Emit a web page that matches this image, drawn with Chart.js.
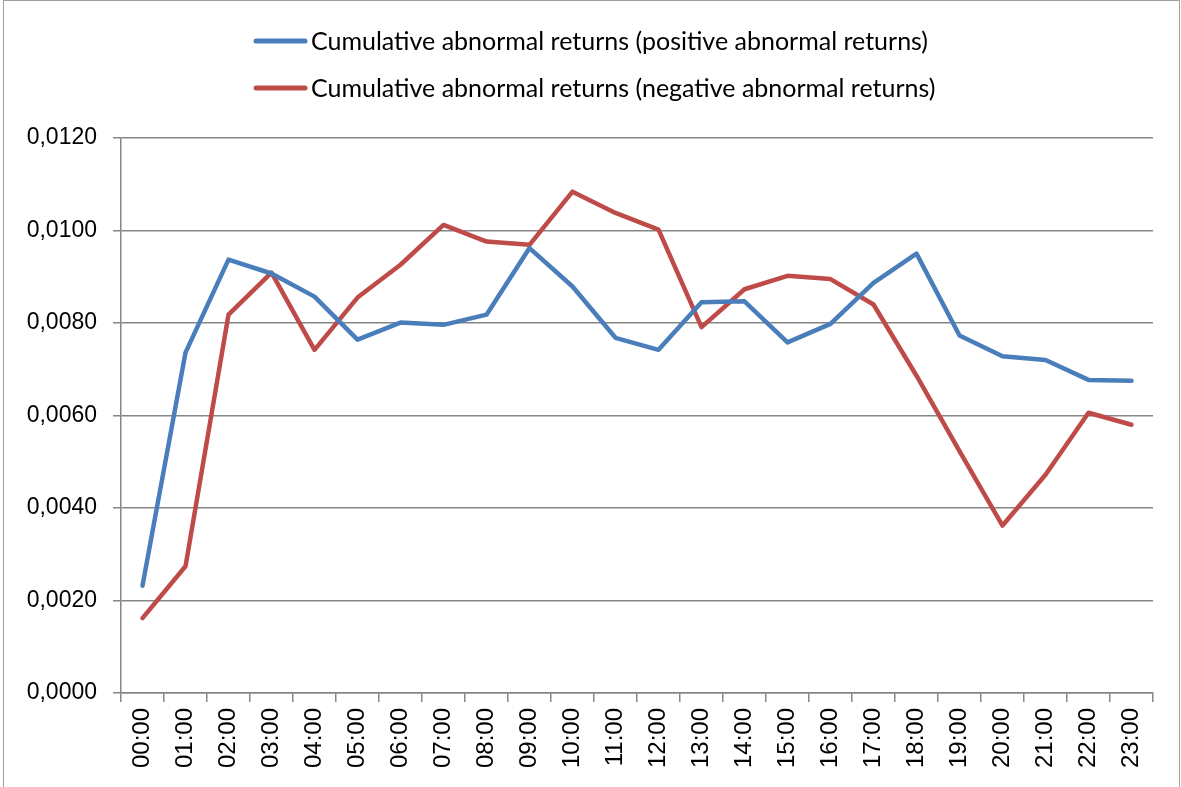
<!DOCTYPE html>
<html>
<head>
<meta charset="utf-8">
<script src="https://cdn.jsdelivr.net/npm/chart.js@4.4.1/dist/chart.umd.min.js"></script>
<style>
    html, body { margin: 0; padding: 0; background: #fff; }
    #contenedor { width: 1181px; height: 787px; }
</style>
</head>
<body>
<div id="contenedor"><canvas id="grafica" width="1181" height="787"></canvas></div>
<script>
const horas = ['00:00', '01:00', '02:00', '03:00', '04:00', '05:00', '06:00', '07:00',
    '08:00', '09:00', '10:00', '11:00', '12:00', '13:00', '14:00', '15:00',
    '16:00', '17:00', '18:00', '19:00', '20:00', '21:00', '22:00', '23:00'];

const positivos = [0.00232, 0.00736, 0.00937, 0.00907, 0.00857, 0.00764, 0.00801, 0.00796,
    0.00818, 0.00962, 0.00879, 0.00768, 0.00742, 0.00845, 0.00847, 0.00758,
    0.00798, 0.00887, 0.00950, 0.00773, 0.00728, 0.00720, 0.00677, 0.00675];

const negativos = [0.00162, 0.00274, 0.00818, 0.00909, 0.00742, 0.00855, 0.00926, 0.01012,
    0.00976, 0.00969, 0.01084, 0.01038, 0.01002, 0.00791, 0.00873, 0.00902,
    0.00895, 0.00840, 0.00686, 0.00523, 0.00362, 0.00472, 0.00606, 0.00580];

const nombres = ['Cumulative abnormal returns (positive abnormal returns)',
    'Cumulative abnormal returns (negative abnormal returns)'];

const marcasY = [0, 0.002, 0.004, 0.006, 0.008, 0.010, 0.012];

const gris = '#868686';

// marco exterior y leyenda dibujados a mano
const marco = {
    id: 'marco',
    beforeDraw(chart) {
        const ctx = chart.ctx;
        ctx.save();
        ctx.fillStyle = '#fff';
        ctx.fillRect(0, 0, chart.width, chart.height);
        ctx.strokeStyle = '#a0a0a0';
        ctx.lineWidth = 1;
        ctx.strokeRect(3.5, 0.5, 1176, 800);
        ctx.restore();
    }
};

const leyenda = {
    id: 'leyenda',
    afterDraw(chart) {
        const ctx = chart.ctx;
        ctx.save();
        chart.data.datasets.forEach((ds, i) => {
            const y = 41 + i * 47;
            ctx.strokeStyle = ds.borderColor;
            ctx.lineWidth = 5;
            ctx.lineCap = 'round';
            ctx.beginPath();
            ctx.moveTo(256, y);
            ctx.lineTo(305, y);
            ctx.stroke();
            ctx.fillStyle = '#000';
            ctx.font = '25px Lato';
            ctx.textBaseline = 'middle';
            ctx.fillText(ds.label, 311, y + 1);
        });
        ctx.restore();
    }
};

const ctx = document.getElementById('grafica').getContext('2d');
const myChart = new Chart(ctx, {
    type: 'line',
    data: {
        labels: horas,
        datasets: [{
            label: nombres[0],
            data: positivos,
            borderColor: '#4A7EBB',
            borderWidth: 4.5,
            pointRadius: 0,
            borderJoinStyle: 'round',
            borderCapStyle: 'round',
            tension: 0
        }, {
            label: nombres[1],
            data: negativos,
            borderColor: '#BE4B48',
            borderWidth: 4.5,
            pointRadius: 0,
            borderJoinStyle: 'round',
            borderCapStyle: 'round',
            tension: 0
        }]
    },
    options: {
        responsive: false,
        animation: false,
        layout: {
            padding: { top: 138, right: 28, left: 0, bottom: 0 }
        },
        scales: {
            x: {
                offset: true,
                grid: {
                    offset: true,
                    drawOnChartArea: false,
                    color: gris,
                    tickLength: 9,
                    lineWidth: 1.5
                },
                border: { color: gris, width: 1.5 },
                ticks: {
                    minRotation: 90,
                    maxRotation: 90,
                    padding: 6,
                    color: '#000',
                    font: { family: 'Liberation Sans', size: 24 }
                },
                afterFit(scale) { scale.height = 94; }
            },
            y: {
                min: 0,
                max: 0.012,
                afterBuildTicks(scale) {
                    scale.ticks = marcasY.map(v => ({ value: v }));
                },
                grid: {
                    color: gris,
                    lineWidth: 1.5,
                    tickLength: 8
                },
                border: { color: gris, width: 1.5 },
                ticks: {
                    padding: 16,
                    color: '#000',
                    font: { family: 'Liberation Sans', size: 23 },
                    callback: v => v.toFixed(4).replace('.', ',')
                },
                afterFit(scale) { scale.width = 121; }
            }
        },
        plugins: {
            legend: { display: false },
            tooltip: { enabled: false }
        }
    },
    plugins: [marco, leyenda]
});
</script>
</body>
</html>
